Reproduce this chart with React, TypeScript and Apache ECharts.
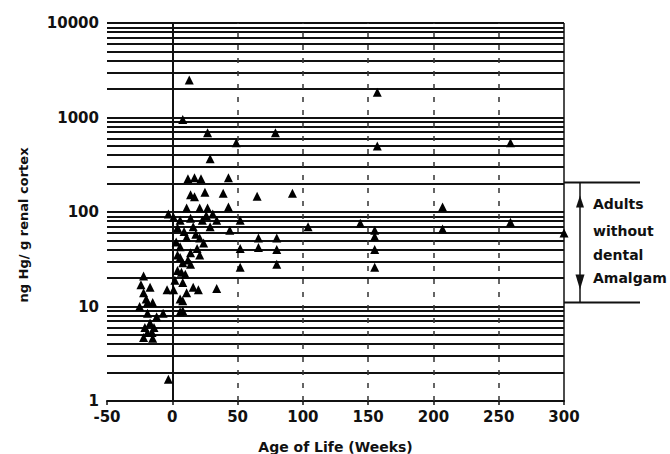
import React, { useEffect, useRef } from "react";
import * as echarts from "echarts";

// Age of life (weeks) and mercury (ng Hg / g renal cortex)
const ages = [
  13, 157, 8, 27, 79, 49, 157, 259, 29,
  12, 17, 22, 43,
  14, 17, 25, 39, 65, 92,
  11, 21, 27, 43, 207,
  -3, 1, 6, 14, 23, 34, 52, 4, 16, 29, 44, 104, 144, 259, 155, 207, 300, 155,
  11, 21, 66, 80,
  6, 19, 52, 66, 80, 155,
  4, 6, 14, 21,
  8, 14, 52, 80, 155,
  4, 10, 7,
  8, 16, 1, -4, 34, 11, 20,
  6, 8, 8, 6,
  -22, -17, -22, -15, -19, -19, -12, -7, -17, -19, -15, -22, -15.5, -24, -20, -25, -14, -21,
  -3,
  3, 9, 18, 26, 12, 2, 24, 31,
];
const mercury = [
  2500, 1850, 950, 690, 690, 540, 500, 540, 365,
  225, 230, 225, 230,
  152, 145, 162, 158, 147, 158,
  110, 110, 110, 113, 113,
  95, 88, 82, 86, 82, 82, 82, 68, 70, 70, 64, 70, 76, 78, 64, 66, 60, 55,
  54, 53, 53, 53,
  43, 41, 41, 42, 40, 40,
  35, 33, 37, 35,
  29, 28, 26, 28, 26,
  24, 22, 23,
  18, 16, 15, 15, 15.5, 14, 15,
  12, 11.5, 9, 8.8,
  21, 16, 14, 11, 11, 8.5, 7.8, 8.5, 6.7, 5.3, 4.6, 4.7, 5.3, 17, 12, 10, 6, 6,
  1.7,
  48, 62, 58, 92, 31, 19, 47, 95,
];

// horizontal rules of the log grid
const gridValues = [
  2, 3, 4, 5, 6, 7, 8, 9, 10,
  20, 30, 40, 50, 60, 70, 80, 90, 100,
  200, 300, 400, 500, 600, 700, 800, 900, 1000,
  2000, 3000, 4000, 5000, 6000, 7000, 8000, 9000, 10000,
];
const dashedWeeks = [50, 100, 150, 200, 250];
const solidWeeks = [0, 300];
const adultRange = [11, 205];
const adultLabel = ["Adults", "without", "dental", "Amalgam"];
const yTitle = "ng Hg/ g renal cortex";
const xTitle = "Age of Life (Weeks)";

export default function App() {
  const ref = useRef<HTMLDivElement>(null);

  useEffect(() => {
    document.body.style.margin = "0";
    const chart = echarts.init(ref.current!, null, { renderer: "svg" });
    const font = "'DejaVu Sans', 'Liberation Sans', sans-serif";
    const ink = "#111";

    chart.setOption({
      animation: false,
      backgroundColor: "#ffffff",
      grid: { left: 107, right: 106, top: 23, bottom: 53, outerBoundsMode: "none", containLabel: false },
      xAxis: {
        type: "value",
        min: -50,
        max: 300,
        interval: 50,
        axisLine: { lineStyle: { color: ink, width: 2 } },
        axisTick: { length: 4, lineStyle: { color: ink, width: 1.5 } },
        axisLabel: { color: ink, fontFamily: font, fontSize: 15, fontWeight: "bold", margin: 8 },
        splitLine: { show: false },
        name: xTitle,
        nameLocation: "middle",
        nameGap: 39,
        nameTextStyle: { color: ink, fontFamily: font, fontSize: 14, fontWeight: "bold" },
      },
      yAxis: {
        type: "log",
        logBase: 10,
        min: 1,
        max: 10000,
        axisLine: { show: true, lineStyle: { color: ink, width: 2 } },
        axisTick: { show: true, length: 5, lineStyle: { color: ink, width: 1.5 } },
        axisLabel: {
          color: ink,
          fontFamily: font,
          fontSize: 15,
          fontWeight: "bold",
          margin: 8,
          formatter: (v: number) => String(Math.round(v)),
        },
        splitLine: { show: false },
      },
      series: [
        {
          type: "scatter",
          data: ages.map((a, i) => [a, mercury[i]]),
          symbol: "triangle",
          symbolSize: 9,
          itemStyle: { color: "#000", opacity: 1 },
          z: 5,
          markLine: {
            silent: true,
            symbol: "none",
            label: { show: false },
            animation: false,
            data: [
              ...gridValues.map((v) => ({
                yAxis: v,
                lineStyle: { color: ink, width: 2, type: "solid" },
              })),
              ...solidWeeks.map((w) => ({
                xAxis: w,
                lineStyle: { color: ink, width: w === 0 ? 2 : 1.5, type: "solid" },
              })),
              ...dashedWeeks.map((w) => ({
                xAxis: w,
                lineStyle: { color: "#333", width: 1.5, type: [5, 8] },
              })),
            ],
          },
        },
      ],
    });

    const [px, pTop] = chart.convertToPixel({ gridIndex: 0 }, [300, adultRange[1]]) as number[];
    const [, pBot] = chart.convertToPixel({ gridIndex: 0 }, [300, adultRange[0]]) as number[];
    const ax = px + 16;
    const textStyle = (t: string, y: number) => ({
      type: "text",
      x: px + 29,
      y,
      style: {
        text: t,
        fill: ink,
        font: `bold 14px ${font}`,
        textAlign: "left",
        textVerticalAlign: "middle",
        align: "left",
        verticalAlign: "middle",
      },
    });

    chart.setOption({
      graphic: [
        {
          type: "text",
          x: 23,
          y: 225,
          rotation: Math.PI / 2,
          style: {
            text: yTitle,
            fill: ink,
            font: `bold 13px ${font}`,
            textAlign: "center",
            textVerticalAlign: "middle",
            align: "center",
            verticalAlign: "middle",
          },
        },
        { type: "line", shape: { x1: px, y1: pTop, x2: px + 76, y2: pTop }, style: { stroke: ink, lineWidth: 2 } },
        { type: "line", shape: { x1: px, y1: pBot, x2: px + 76, y2: pBot }, style: { stroke: ink, lineWidth: 2 } },
        { type: "line", shape: { x1: ax, y1: pTop, x2: ax, y2: pBot }, style: { stroke: ink, lineWidth: 1.5 } },
        {
          type: "polygon",
          shape: { points: [[ax, pTop + 13], [ax - 4, pTop + 25], [ax + 4, pTop + 25]] },
          style: { fill: ink },
        },
        {
          type: "polygon",
          shape: { points: [[ax, pBot - 13], [ax - 4.5, pBot - 28], [ax + 4.5, pBot - 28]] },
          style: { fill: ink },
        },
        textStyle(adultLabel[0], pTop + 21),
        textStyle(adultLabel[1], pTop + 48),
        textStyle(adultLabel[2], pTop + 72),
        textStyle(adultLabel[3], pTop + 95),
      ],
    });

    return () => chart.dispose();
  }, []);

  return (
    <div
      ref={ref}
      style={{ position: "absolute", left: 0, top: 0, width: 670, height: 454 }}
    />
  );
}
